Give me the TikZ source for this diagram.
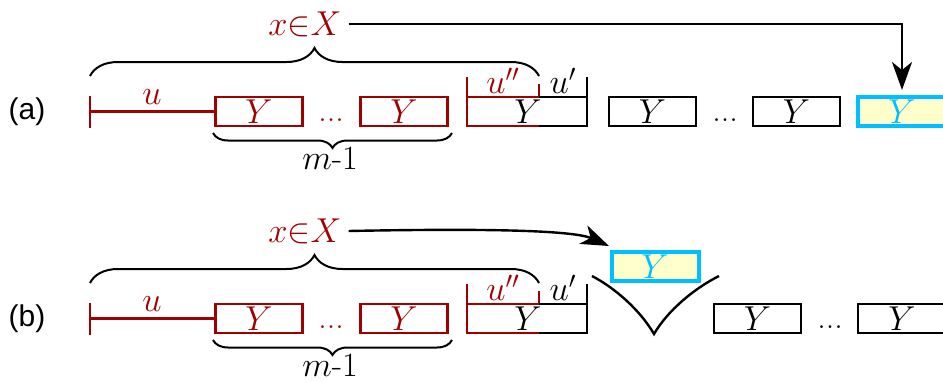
\documentclass[tikz,border=0pt]{standalone}
\usepackage{fontspec}
\newfontfamily\labfont{Liberation Sans}
\usetikzlibrary{decorations.pathreplacing,arrows.meta}
\definecolor{dred}{HTML}{A00000}
\definecolor{cy}{HTML}{00BFFF}
\definecolor{lyel}{HTML}{FFFFCC}
\begin{document}
\begin{tikzpicture}[x=0.5pt,y=-0.5pt, font=\fontsize{17}{20}\selectfont,
  ybox/.style={draw, line width=1.2pt, minimum width=43.5pt, minimum height=14.5pt, inner sep=0pt},
  rbox/.style={ybox, draw=dred, text=dred},
  bbox/.style={ybox, draw=black},
  cbox/.style={ybox, draw=cy, line width=2pt, fill=lyel, text=cy},
  rl/.style={draw=dred, line width=1.2pt},
  bl/.style={draw=black, line width=1.2pt},
  brcup/.style={decorate, decoration={brace, amplitude=#1}, line width=1pt},
  brcdn/.style={decorate, decoration={brace, mirror, amplitude=#1}, line width=1pt},
  lab/.style={font=\labfont\fontsize{15}{18}\selectfont},
  arr/.style={draw=black, line width=1.2pt, -{Stealth[length=14pt,width=10pt,inset=4pt]}},
  dotsn/.style={anchor=base},
  mlab/.style={inner sep=1pt}
]
\useasboundingbox (0,0) rectangle (943,381);

% ---------- row (a) ----------
\begin{scope}
\node[lab] (laba) at (27,112) {(a)};
\coordinate (ua) at (90,111.5);
\draw[rl] ([yshift=8pt]ua) -- ([yshift=-8pt]ua);
\node[rbox] (ya1) at (259,111.5) {$Y$};
\draw[rl] (ua) -- (ya1.west);
\node[text=dred] (ula) at (152,97) {$u$};
\node[dotsn, text=dred] (da1) at (331,121) {...};
\node[rbox] (ya2) at (404,111.5) {$Y$};
\draw[rl] (467,77) -- (467,126) -- (539,126);
\draw[rl] (467,97) -- (539,97) -- (539,84);
\draw[bl] (539,97) -- (587,97);
\draw[bl] (539,126) -- (587,126) -- (587,77);
\node (ysa) at (528,112) {$Y$};
\node[text=dred] (uppa) at (503,81) {$u''$};
\node (upa) at (563,81) {$u'$};
\draw[brcup=14pt] (90,76) -- (539,76);
\draw[brcdn=7.5pt] (213,133) -- (452,133);
\node[mlab] (ma) at (330,158) {$m$-1};
\node[text=dred] (xa) at (305,24) {$x{\in}X$};
\node[bbox] (ba1) at (652.5,111.5) {$Y$};
\node[dotsn] (da2) at (725,121) {...};
\node[bbox] (ba2) at (796.5,111.5) {$Y$};
\node[cbox, minimum width=44pt] (ca) at (902,111.5) {$Y$};
\draw[arr, shorten >=2.5pt] (xa.east) -| (ca.north);
\end{scope}

% ---------- row (b) ----------
\begin{scope}[yshift=-103.5pt]
\node[lab] (labb) at (27,112) {(b)};
\coordinate (ub) at (90,111.5);
\draw[rl] ([yshift=8pt]ub) -- ([yshift=-8pt]ub);
\node[rbox] (yb1) at (259,111.5) {$Y$};
\draw[rl] (ub) -- (yb1.west);
\node[text=dred] (ulb) at (152,97) {$u$};
\node[dotsn, text=dred] (db1) at (331,121) {...};
\node[rbox] (yb2) at (404,111.5) {$Y$};
\draw[rl] (467,77) -- (467,126) -- (539,126);
\draw[rl] (467,97) -- (539,97) -- (539,84);
\draw[bl] (539,97) -- (587,97);
\draw[bl] (539,126) -- (587,126) -- (587,77);
\node (ysb) at (528,112) {$Y$};
\node[text=dred] (uppb) at (503,81) {$u''$};
\node (upb) at (563,81) {$u'$};
\draw[brcup=14pt] (90,76) -- (539,76);
\draw[brcdn=7.5pt] (213,133) -- (452,133);
\node[mlab] (mb) at (330,158) {$m$-1};
\node[text=dred] (xb) at (305,24) {$x{\in}X$};
\node[cbox] (cb) at (655,59.5) {$Y$};
\draw[bl] (592,69) .. controls (615,81) and (640,103) .. (654,127)
          .. controls (668,103) and (695,81) .. (719,69);
\node[bbox] (bb1) at (757.5,111.5) {$Y$};
\node[dotsn] (db2) at (830,121) {...};
\node[bbox, minimum width=44pt] (bb2) at (902,111.5) {$Y$};
\coordinate (tipb) at (609,39);
\draw[arr] (xb.east) .. controls (500,21) and (575,24) .. (tipb);
\end{scope}
\end{tikzpicture}
\end{document}
